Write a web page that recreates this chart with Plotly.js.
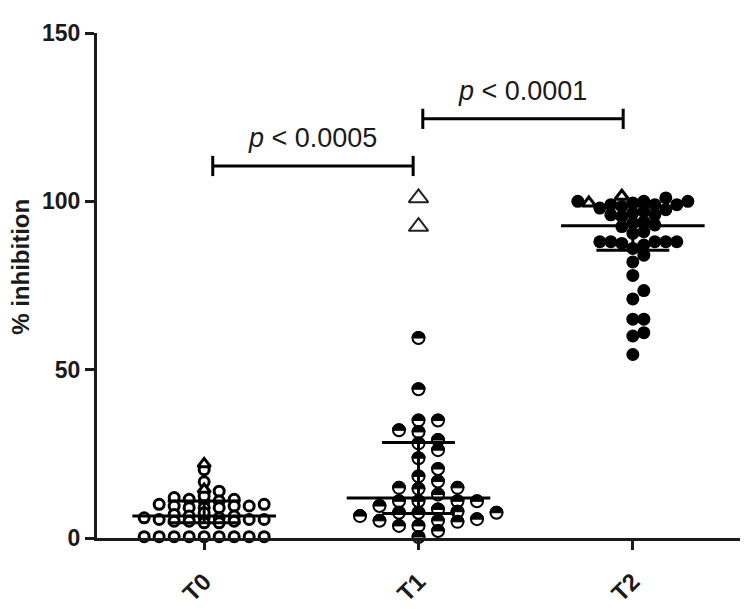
<!DOCTYPE html>
<html>
<head>
<meta charset="utf-8">
<script src="https://cdn.plot.ly/plotly-3.0.1.min.js"></script>
<style>
  html, body { margin: 0; padding: 0; background: #fff; }
  #plot { width: 752px; height: 609px; }
</style>
</head>
<body>
<div id="plot"></div>
<script>
// DATA
var categories = ["T0", "T1", "T2"];
var yTicks = [0, 50, 100, 150];
var yTitle = "% inhibition";

var t0Circles = [20.3, 16.7, 13.9, 11, 11.5, 12, 11, 12.5, 11.5,
  9.5, 9, 10, 9.5, 9, 10, 9.5, 9,
  6, 6.5, 5.5, 6, 7, 6.5, 7.5, 6,
  5, 5.5, 4.5, 5, 5.5, 4.5, 5,
  0.4, 0.4, 0.4, 0.4, 0.4, 0.4, 0.4, 0.4, 0.4];
var t0Triangles = [22, 14.4];

var t1Circles = [59.4, 44.2, 34.9, 34.9, 32, 31.5, 29.1, 28.1, 26.1, 23.7,
  20.5, 18.3, 16.8, 14.9, 14.9, 14.6, 12.9, 10.9, 10.9, 10.9, 10.9,
  9.5, 8.5, 7.8, 7.5, 7.5, 7.5, 6.5, 5.6, 5.1, 5.1, 4.8, 3.6, 3.6, 2.1, 0.3];
var t1Triangles = [101, 92.5];

var t2Circles = [101, 100, 100, 100, 99.5, 99, 99, 99, 98.5, 98,
  97.5, 97, 96.5, 96, 96, 95.5, 94, 93.5, 93, 92.5, 91, 90.5,
  88, 88, 88, 88, 88, 87.5, 87, 86,
  84, 82, 78, 73.5, 71, 65, 65, 61, 60, 54.5];
var t2Triangles = [99.5, 101.5];

// comparison brackets: start, end (group position), height, label
var bracketFrom = [0.04, 1.02];
var bracketTo = [0.975, 1.955];
var bracketY = [110.5, 124.5];
var bracketLabels = ["<i>p</i> < 0.0005", "<i>p</i> < 0.0001"];

// LAYOUT CONSTANTS
var W = 752, H = 609;
var M = { l: 97, r: 12, t: 33, b: 71 };
var plotW = W - M.l - M.r, plotH = H - M.t - M.b;
var PX_PER_UNIT = plotH / 150;
var PX_PER_CAT = plotW / 3;
var FONT = "Liberation Sans, Arial, sans-serif";
var INK = "#1a1a1a";

// prism-like scatter: sorted by value, each point takes the nearest free slot,
// a slot is taken when another point is closer than dx sideways and dy in height
function swarm(vals, dx, dy, step) {
  var order = vals.map(function(v, i) { return i; })
    .sort(function(a, b) { return vals[a] - vals[b]; });
  var placed = [];
  var off = new Array(vals.length);
  order.forEach(function(i) {
    var y = vals[i] * PX_PER_UNIT;
    for (var k = 0; k < 200; k++) {
      var cands = k === 0 ? [0] : [k * step, -k * step];
      var found = null;
      for (var c = 0; c < cands.length; c++) {
        var cx = cands[c];
        var hit = placed.some(function(p) {
          return Math.abs(p.x - cx) < dx - 0.01 && Math.abs(p.y - y) < dy;
        });
        if (!hit) { found = cx; break; }
      }
      if (found !== null) {
        off[i] = found;
        placed.push({ x: found, y: y });
        break;
      }
    }
  });
  return off.map(function(o) { return o / PX_PER_CAT; });
}

function layoutGroup(idx, circles, triangles, dx, dy, step) {
  var all = circles.concat(triangles);
  var offs = swarm(all, dx, dy, step);
  var xs = offs.map(function(o) { return idx + o; });
  return {
    cx: xs.slice(0, circles.length), cy: circles,
    tx: xs.slice(circles.length), ty: triangles,
    all: all
  };
}

// Prism style quartiles (n+1 method)
function quant(vals, p) {
  var s = vals.slice().sort(function(a, b) { return a - b; });
  var pos = p * (s.length + 1) - 1;
  if (pos <= 0) return s[0];
  if (pos >= s.length - 1) return s[s.length - 1];
  var lo = Math.floor(pos), f = pos - lo;
  return s[lo] + f * (s[lo + 1] - s[lo]);
}

var g0 = layoutGroup(0, t0Circles, t0Triangles, 15, 5, 7.5);
var g1 = layoutGroup(1, t1Circles, t1Triangles, 19.5, 10, 9.75);
var g2 = layoutGroup(2, t2Circles, t2Triangles, 11, 10, 5.5);

var traces = [
  { x: g0.cx, y: g0.cy, mode: "markers", type: "scatter", cliponaxis: false,
    marker: { symbol: "circle", size: 10, color: "#fff", line: { color: "#000", width: 3 } } },
  { x: g0.tx, y: g0.ty, mode: "markers", type: "scatter", cliponaxis: false,
    marker: { symbol: "triangle-up", size: 11, color: "#fff", line: { color: "#000", width: 3 } } },
  { x: g1.cx, y: g1.cy, mode: "markers", type: "scatter", cliponaxis: false,
    marker: { symbol: "circle", size: 12, color: "#fff", line: { color: "#000", width: 2 } } },
  { x: g1.tx, y: g1.ty, mode: "markers", type: "scatter", cliponaxis: false,
    marker: { symbol: "triangle-up", size: 17, color: "#fff", line: { color: "#222", width: 2 } } },
  { x: g2.cx, y: g2.cy, mode: "markers", type: "scatter", cliponaxis: false,
    marker: { symbol: "circle", size: 13, color: "#000", line: { width: 0 } } },
  { x: g2.tx, y: g2.ty, mode: "markers", type: "scatter", cliponaxis: false,
    marker: { symbol: "triangle-up", size: 12, color: "#fff", line: { color: "#000", width: 3 } } }
];

var shapes = [];

// upper black half of the T1 circles
var r = 6.5, k = 0.5523 * r;
var halfPath = "M " + (-r) + " 0 C " + (-r) + " " + k + " " + (-k) + " " + r + " 0 " + r +
  " C " + k + " " + r + " " + r + " " + k + " " + r + " 0 Z";
g1.cx.forEach(function(x, i) {
  shapes.push({
    type: "path", xref: "x", yref: "y", xsizemode: "pixel", ysizemode: "pixel",
    xanchor: x, yanchor: g1.cy[i], path: halfPath,
    fillcolor: "#000", line: { color: "#000", width: 1 }
  });
});

// median and interquartile range
function lineShape(x0, y0, x1, y1) {
  return { type: "line", xref: "x", yref: "y", x0: x0, y0: y0, x1: x1, y1: y1,
    line: { color: "#000", width: 3 } };
}
[g0, g1, g2].forEach(function(g, idx) {
  var med = quant(g.all, 0.5), q1 = quant(g.all, 0.25), q3 = quant(g.all, 0.75);
  shapes.push(lineShape(idx - 0.335, med, idx + 0.335, med));
  shapes.push(lineShape(idx - 0.17, q1, idx + 0.17, q1));
  shapes.push(lineShape(idx - 0.17, q3, idx + 0.17, q3));
  shapes.push(lineShape(idx, q1, idx, q3));
});

// significance brackets
var annotations = [];
bracketY.forEach(function(y, i) {
  shapes.push(lineShape(bracketFrom[i], y, bracketTo[i], y));
  shapes.push(lineShape(bracketFrom[i], y - 3, bracketFrom[i], y + 3));
  shapes.push(lineShape(bracketTo[i], y - 3, bracketTo[i], y + 3));
  annotations.push({
    x: (bracketFrom[i] + bracketTo[i]) / 2, y: y, xref: "x", yref: "y",
    text: bracketLabels[i], showarrow: false, yanchor: "bottom", yshift: 11,
    font: { family: FONT, size: 27, color: INK }
  });
});

// y title, placed a bit above the plot middle like the original
annotations.push({
  x: -76 / plotW, y: 0.537, xref: "paper", yref: "paper",
  text: "<b>" + yTitle + "</b>", textangle: -90, showarrow: false,
  xanchor: "center", yanchor: "middle",
  font: { family: FONT, size: 24, color: INK }
});

var layout = {
  width: W, height: H,
  margin: M,
  paper_bgcolor: "#fff", plot_bgcolor: "#fff",
  showlegend: false,
  font: { family: FONT, color: INK },
  xaxis: {
    range: [-0.5, 2.5],
    tickvals: [0, 1, 2], ticktext: categories.map(function(c) { return "<b>" + c + "</b>"; }),
    tickangle: -45, ticklabelstandoff: 8,
    tickfont: { family: FONT, size: 24, color: INK },
    showline: true, linecolor: INK, linewidth: 3,
    ticks: "outside", ticklen: 9, tickwidth: 3, tickcolor: INK,
    showgrid: false, zeroline: false, fixedrange: true
  },
  yaxis: {
    range: [0, 150],
    tickvals: yTicks, ticktext: yTicks.map(function(t) { return "<b>" + t + "</b>"; }),
    tickfont: { family: FONT, size: 23, color: INK },
    showline: true, linecolor: INK, linewidth: 3,
    ticks: "outside", ticklen: 9, tickwidth: 3, tickcolor: INK,
    showgrid: false, zeroline: false, fixedrange: true
  },
  shapes: shapes,
  annotations: annotations
};

Plotly.newPlot("plot", traces, layout, { staticPlot: true, displayModeBar: false });
</script>
</body>
</html>
